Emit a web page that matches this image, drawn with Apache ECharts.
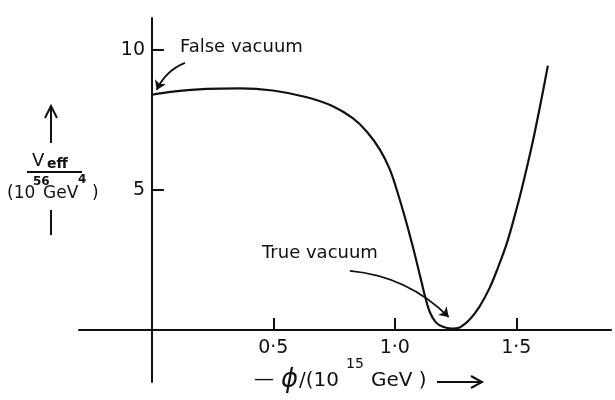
<!DOCTYPE html>
<html>
<head>
<meta charset="utf-8">
<script src="https://cdn.jsdelivr.net/npm/echarts@6/dist/echarts.min.js"></script>
<style>
html,body{margin:0;padding:0;background:#fff;}
#chart{width:615px;height:400px;}
</style>
</head>
<body>
<div id="chart"></div>
<script>
// phi in units of 10^15 GeV (negative of phi), Veff in units of 10^56 GeV^4
var phiValues  = [0, 0.086, 0.226, 0.362, 0.498, 0.638, 0.745, 0.827, 0.885, 0.938, 0.979, 1.012, 1.041, 1.070, 1.091, 1.111, 1.123, 1.144, 1.169, 1.198, 1.235, 1.267, 1.309, 1.350, 1.391, 1.424, 1.461, 1.494, 1.523, 1.568, 1.609, 1.63];
var veffValues = [8.4, 8.51, 8.61, 8.63, 8.55, 8.31, 7.99, 7.56, 7.08, 6.45, 5.74, 4.89, 4.04, 3.11, 2.39, 1.68, 1.25, 0.64, 0.27, 0.11, 0.05, 0.09, 0.38, 0.85, 1.51, 2.21, 3.09, 4.09, 5.05, 6.73, 8.48, 9.44];
var xTickValues = [0.5, 1.0, 1.5];
var xTickLabels = ['0·5', '1·0', '1·5'];
var yTickValues = [5, 10];
var yTickLabels = ['5', '10'];
// annotation arrows: [start, end] in data coordinates
var falseVacuumArrow = [[0.136, 9.54], [0.02, 8.57]];
var trueVacuumArrow = [[0.815, 2.11], [1.222, 0.46]];

var INK = '#111';
var FONT = 'DejaVu Sans';

var curve = phiValues.map(function (p, i) { return [p, veffValues[i]]; });

var chart = echarts.init(document.getElementById('chart'), null, {renderer: 'canvas'});

function txt(x, y, s, size, extra) {
  var st = {text: s, x: x, y: y, fill: INK, fontFamily: FONT, fontSize: size,
            align: 'left', verticalAlign: 'middle'};
  if (extra) for (var k in extra) st[k] = extra[k];
  return {type: 'text', silent: true, style: st};
}
function line(pts, w) {
  return {type: 'polyline', silent: true, shape: {points: pts},
          style: {stroke: INK, lineWidth: w || 2, fill: null}};
}
function arrowSeries(pts, curveness) {
  return {
    type: 'lines', coordinateSystem: 'cartesian2d', silent: true,
    symbol: ['none', 'arrow'], symbolSize: 9,
    lineStyle: {color: INK, width: 1.8, opacity: 1, curveness: curveness},
    data: [{coords: [pts[0], pts[1]]}]
  };
}

var option = {
  animation: false,
  backgroundColor: '#fff',
  grid: {left: 79, right: 4, top: 18, bottom: 18, outerBoundsMode: 'none', containLabel: false},
  xAxis: {
    type: 'value', min: -0.3, max: 1.89,
    axisLine: {onZero: true, lineStyle: {color: INK, width: 2}},
    axisTick: {inside: true, length: 12, customValues: xTickValues, lineStyle: {color: INK, width: 2}},
    axisLabel: {customValues: xTickValues, margin: -43, color: INK, fontSize: 19, fontFamily: FONT,
      formatter: function (v) { var i = xTickValues.indexOf(v); return i >= 0 ? xTickLabels[i] : ''; }},
    splitLine: {show: false}
  },
  yAxis: {
    type: 'value', min: -1.86, max: 11.14,
    axisLine: {onZero: true, lineStyle: {color: INK, width: 2}},
    axisTick: {inside: true, length: 12, customValues: yTickValues, lineStyle: {color: INK, width: 2}},
    axisLabel: {customValues: yTickValues, margin: -66, color: INK, fontSize: 19, fontFamily: FONT,
      formatter: function (v) { var i = yTickValues.indexOf(v); return i >= 0 ? yTickLabels[i] : ''; }},
    splitLine: {show: false}
  },
  series: [{
    type: 'line',
    data: curve,
    smooth: 0.35,
    symbol: 'none',
    lineStyle: {color: INK, width: 2.2},
    silent: true
  },
  arrowSeries(falseVacuumArrow, -0.2),
  arrowSeries(trueVacuumArrow, 0.18)
  ],
  graphic: [
    txt(180, 47, 'False vacuum', 18),
    txt(262, 253, 'True vacuum', 18),
    // y-axis title
    line([[51, 143], [51, 106]], 2),
    line([[45, 118], [51, 106], [57, 118]], 2),
    txt(32, 161, 'V', 18),
    txt(47, 164, 'eff', 14, {fontWeight: 'bold'}),
    line([[27, 172], [82, 172]], 2),
    txt(7, 194, '(10', 17),
    txt(33, 182, '56', 12, {fontWeight: 'bold'}),
    txt(43, 194, 'GeV', 17),
    txt(78, 180, '4', 12, {fontWeight: 'bold'}),
    txt(92, 194, ')', 17),
    line([[51, 210], [51, 235]], 2),
    // x-axis title
    txt(254, 380, '—', 20),
    txt(281, 380, 'ϕ', 26, {fontStyle: 'italic'}),
    txt(299, 381, '/(10', 20),
    txt(346, 364, '15', 14),
    txt(371, 381, 'GeV )', 20),
    line([[437, 382], [482, 382]], 2),
    line([[471, 376], [482, 382], [471, 388]], 2)
  ]
};
chart.setOption(option);
</script>
</body>
</html>
